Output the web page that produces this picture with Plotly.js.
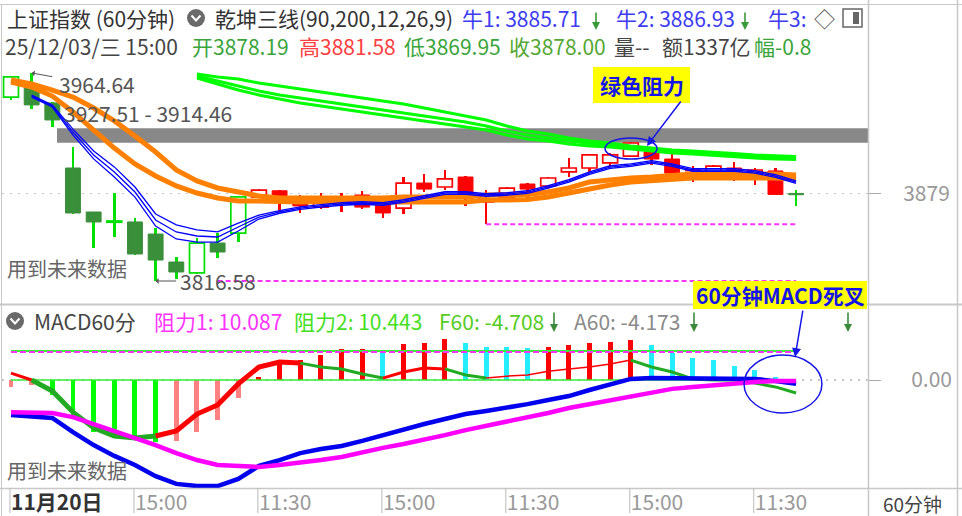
<!DOCTYPE html>
<html><head><meta charset="utf-8">
<script src="https://cdn.plot.ly/plotly-3.0.1.min.js"></script>
<style>html,body{margin:0;padding:0;background:#fff;}#chart{width:962px;height:516px;}</style>
</head><body><div id="chart"></div>
<script>
// ---------- data ----------
const open  = [3947.5,3956.1,3943.3,3897.0,3865.7,3858.4,3858.6,3850.0,3830.1,3822.3,3843.6,3850.7,3876.4,3880.8,3876.4,3869.2,3876.4,3877.8,3870.7,3868.5,3886.3,3883.5,3890.6,3872.8,3875.6,3885.6,3884.2,3894.2,3897.0,3900.6,3905.5,3908.4,3903.4,3895.6,3894.2,3897.0,3892.0,3894.9,3878.19];
const high  = [3962.5,3964.64,3944.0,3911.9,3866.0,3879.2,3861.4,3854.3,3833.7,3847.2,3850.7,3877.0,3882.0,3881.3,3877.8,3879.2,3879.2,3880.6,3872.1,3890.6,3892.7,3895.6,3891.3,3881.3,3883.5,3886.3,3890.6,3903.9,3907.0,3907.7,3915.5,3910.5,3907.7,3898.4,3899.1,3901.3,3897.0,3897.0,3881.58];
const low   = [3945.4,3939.0,3926.2,3864.3,3840.1,3847.9,3835.1,3816.58,3818.0,3821.6,3833.0,3844.3,3876.0,3865.7,3865.0,3867.8,3865.7,3867.8,3861.3,3864.3,3879.9,3881.3,3870.0,3857.0,3872.8,3875.6,3882.0,3890.6,3894.2,3897.7,3904.8,3899.1,3892.0,3887.0,3893.4,3887.7,3884.9,3877.8,3869.95];
const close = [3961.8,3941.9,3931.2,3865.0,3858.6,3858.8,3835.8,3831.5,3823.0,3843.6,3837.2,3876.4,3881.3,3875.6,3870.0,3874.2,3874.2,3869.2,3865.0,3886.3,3882.0,3889.2,3875.6,3875.0,3882.7,3882.0,3889.9,3897.0,3906.3,3906.3,3914.8,3903.4,3893.4,3894.9,3898.4,3892.0,3895.6,3878.2,3878.00];
// candle colour state of the 乾坤三线 indicator: G = green, R = red
const zone = 'GGGGGGGGGGGGRRRRRRRRRRRRRRRRRRRRRRRRRRG';

const N = null;
const green1 = [N,N,N,N,N,N,N,N,N,3963.9,3961.8,3960.3,3957.5,3955.4,3953.2,3951.1,3949.0,3946.8,3944.7,3942.5,3939.7,3936.9,3934.0,3931.2,3926.9,3923.3,3921.2,3918.3,3916.2,3914.8,3912.7,3911.2,3909.8,3909.1,3908.4,3907.3,3906.3,3905.5,3905.2];
const green2 = [N,N,N,N,N,N,N,N,N,3962.5,3958.9,3955.4,3951.8,3949.0,3946.8,3944.7,3942.5,3940.4,3938.3,3936.2,3934.0,3931.9,3929.7,3926.9,3923.3,3920.5,3918.3,3916.2,3914.4,3913.4,3911.9,3910.5,3909.1,3908.0,3907.0,3906.3,3905.5,3904.8,3904.1];
const green3 = [N,N,N,N,N,N,N,N,N,3961.1,3956.8,3952.5,3949.0,3946.1,3943.3,3941.1,3939.0,3936.9,3934.7,3932.6,3930.5,3928.3,3926.2,3924.0,3920.5,3917.6,3916.2,3914.1,3912.7,3911.9,3910.5,3909.1,3907.7,3907.0,3905.9,3904.8,3904.1,3903.4,3903.1];
const orange1 = [3959.6,3956.8,3952.5,3947.5,3939.7,3930.5,3919.8,3908.4,3895.6,3887.8,3882.8,3879.9,3877.1,3875.7,3875.7,3876.0,3875.7,3875.4,3875.7,3876.4,3876.4,3876.8,3876.4,3877.8,3877.8,3878.2,3879.9,3882.8,3887.0,3888.5,3889.9,3890.6,3892.0,3892.7,3892.7,3893.0,3892.7,3892.7,3892.0];
const orange2 = [3958.2,3954.6,3948.2,3936.9,3924.0,3911.2,3899.9,3891.3,3884.2,3879.2,3875.7,3873.5,3873.5,3872.8,3872.8,3873.1,3872.8,3872.5,3872.8,3872.8,3873.1,3872.8,3872.8,3874.2,3874.2,3874.6,3876.4,3879.2,3882.8,3884.9,3887.0,3887.8,3889.2,3889.9,3889.9,3890.2,3889.9,3889.9,3889.2];
const blue1 = [N,3948.9,3941.8,3924.7,3909.1,3897.8,3883.5,3864.3,3856.5,3852.9,3851.5,3857.8,3863.5,3866.6,3869.4,3870.9,3872.3,3873.0,3872.3,3874.4,3877.3,3880.1,3880.1,3878.7,3879.4,3880.8,3884.4,3888.7,3894.3,3898.6,3900.0,3902.2,3900.0,3896.5,3896.5,3896.5,3895.1,3892.2,3887.9];
const blue2 = [N,3948.2,3941.1,3922.6,3906.3,3894.2,3879.9,3860.0,3851.5,3848.6,3847.9,3855.0,3862.1,3865.7,3868.5,3870.0,3871.4,3872.1,3871.4,3873.5,3876.4,3879.2,3879.2,3877.8,3878.5,3879.9,3883.5,3887.8,3893.4,3897.7,3899.1,3901.3,3899.1,3895.6,3895.6,3895.6,3894.2,3891.3,3887.0];
const blue3 = [N,3947.5,3940.4,3920.5,3903.5,3890.6,3876.3,3855.7,3846.5,3844.3,3844.3,3852.2,3860.7,3864.8,3867.6,3869.1,3870.5,3871.2,3870.5,3872.6,3875.5,3878.3,3878.3,3876.9,3877.6,3879.0,3882.6,3886.9,3892.5,3896.8,3898.2,3900.4,3898.2,3894.7,3894.7,3894.7,3893.3,3890.4,3886.1];
const bandTop = 3925.3, bandBottom = 3915.0;       // grey zone 3927.51 - 3914.46
const swingLow = 3816.58, swingLowFrom = 10;       // dashed level
const secondLow = 3857.0, secondLowFrom = 23;      // dashed level
const refPrice = 3879;

// MACD60分 panel
const dif  = [-12.6,-13.0,-13.7,-18.8,-23.5,-27.4,-30.7,-34.7,-37.5,-38.3,-38.3,-35.7,-31.0,-28.9,-26.4,-24.9,-23.8,-22.0,-19.9,-18.1,-15.9,-14.1,-12.3,-11.2,-10.1,-8.7,-7.2,-5.8,-3.6,-1.8,0.4,0.7,0.7,0.7,0.7,0.4,0.4,-0.4,-1.4];
const dea  = [-11.6,-11.6,-11.9,-13.4,-15.9,-18.4,-20.9,-23.5,-26.4,-28.9,-30.7,-31.0,-31.4,-30.7,-30.0,-28.9,-27.8,-26.0,-24.5,-23.1,-21.7,-19.9,-18.1,-16.6,-15.2,-13.7,-11.9,-10.1,-8.7,-7.2,-5.8,-4.3,-3.2,-2.5,-1.8,-1.1,-0.7,-0.4,-0.4];
const f60  = [2.5,0.0,-4.0,-11.6,-17.3,-20.2,-20.9,-20.2,-18.4,-12.3,-9.0,-1.4,4.7,6.5,6.1,4.7,4.0,2.2,0.7,2.9,4.3,4.0,1.8,0.7,1.4,1.8,3.2,4.0,4.7,5.8,7.2,4.7,2.9,0.4,0.0,0.0,-1.1,-2.5,-4.7];
const hist = [-2.5,-1.8,-5.4,-13.4,-18.8,-20.6,-20.9,-22.4,-22.2,-18.8,-14.4,-6.5,1.1,6.5,7.2,9.0,11.2,11.2,10.1,13.0,13.4,14.8,13.4,11.9,11.8,11.5,11.8,12.6,13.4,13.7,14.4,12.6,9.7,7.9,7.2,5.1,3.6,1.1,0];
const resist1 = 10.087, resist2 = 10.443;

const tickIdx  = [0,6,12,18,24,30,36];
const tickText = ['11月20日','15:00','11:30','15:00','11:30','15:00','11:30'];

// ---------- styling / build ----------
const F = '"Noto Sans CJK SC", "Noto Sans", sans-serif';
const idx = close.map((_, i) => i);
const last = idx.length - 1;
const PX = x => (x - 2) / 866;
const PY = y => (488 - y) / 483;

const traces = [];
const T = {xaxis:'x2', yaxis:'y', hoverinfo:'skip', showlegend:false};
function line(y, color, width, extra) {
  traces.push(Object.assign({type:'scatter', mode:'lines', x:idx, y:y, line:{color:color, width:width}}, T, extra||{}));
}
line(green3, '#00ff00', 3); line(green2, '#00ff00', 3); line(green1, '#00ff00', 3);
line(orange2, '#ff8000', 5); line(orange1, '#ff8000', 5);
line(blue3, '#0000ff', 1.3); line(blue2, '#0000ff', 1.3); line(blue1, '#0000ff', 1.3);
// dashed support levels
traces.push(Object.assign({type:'scatter', mode:'lines', x:[swingLowFrom, last], y:[swingLow, swingLow], line:{color:'#ff33ff', width:2, dash:'5px,3px'}}, T));
traces.push(Object.assign({type:'scatter', mode:'lines', x:[secondLowFrom, last], y:[secondLow, secondLow], line:{color:'#ff33ff', width:2, dash:'5px,3px'}}, T));

// wicks
['R','G'].forEach(z => {
  const xs=[], b=[], h=[];
  idx.forEach(i => { if (zone[i]===z) { xs.push(i); b.push(low[i]); h.push(high[i]-low[i]); } });
  traces.push(Object.assign({type:'bar', x:xs, base:b, y:h, width:0.12,
    marker:{color: z==='R' ? '#ff0000' : '#00e000', line:{width:0}}}, T));
});
// bodies
const bodyStyle = {
  Rup:{fill:'#ffffff', line:'#ff0000', lw:1.7},
  Rdn:{fill:'#ff0000', line:'#ff0000', lw:1},
  Gup:{fill:'#ffffff', line:'#00e000', lw:1.7},
  Gdn:{fill:'#3a8f3a', line:'#3a8f3a', lw:1}
};
Object.keys(bodyStyle).forEach(k => {
  const xs=[], b=[], h=[];
  idx.forEach(i => {
    const up = close[i] > open[i];
    if (zone[i] + (up ? 'up' : 'dn') === k) {
      xs.push(i); b.push(Math.min(open[i], close[i])); h.push(Math.max(Math.abs(close[i]-open[i]), 0.9));
    }
  });
  const s = bodyStyle[k];
  traces.push(Object.assign({type:'bar', x:xs, base:b, y:h, width:0.72,
    marker:{color:s.fill, line:{color:s.line, width:s.lw}}}, T));
});

// ---- MACD panel ----
const B = {xaxis:'x', yaxis:'y2', hoverinfo:'skip', showlegend:false};
const histColor = hist.map((v, i) => {
  const p = i ? hist[i-1] : -Infinity;
  if (v > 0) return v >= p ? '#ff0000' : '#22eeff';
  return v <= p ? '#00ff00' : '#ff8080';
});
traces.push(Object.assign({type:'bar', x:idx, y:hist, width:0.24, marker:{color:histColor, line:{width:0}}}, B));
traces.push(Object.assign({type:'scatter', mode:'lines', x:[0, last], y:[0, 0], line:{color:'#33ee33', width:1.5}}, B));
traces.push(Object.assign({type:'scatter', mode:'lines', x:[0, last], y:[resist2, resist2], line:{color:'#33ee33', width:2}}, B));
traces.push(Object.assign({type:'scatter', mode:'lines', x:[0, last], y:[resist1, resist1], line:{color:'#ff33ff', width:2, dash:'6px,3px'}}, B));
const segs = [[0,1,'#ff0000',3],[1,7,'#22aa22',5],[7,14,'#ff0000',5],[14,18,'#22aa22',3],[18,21,'#ff0000',3],[21,23,'#22aa22',3],[23,30,'#ff0000',1.5],[30,38,'#22aa22',3]];
segs.forEach(s => {
  traces.push(Object.assign({type:'scatter', mode:'lines', x:idx.slice(s[0], s[1]+1), y:f60.slice(s[0], s[1]+1), line:{color:s[2], width:s[3]}}, B));
});
traces.push(Object.assign({type:'scatter', mode:'lines', x:idx, y:dif, line:{color:'#0000ee', width:4.5}}, B));
traces.push(Object.assign({type:'scatter', mode:'lines', x:idx, y:dea, line:{color:'#ff00ff', width:4.5}}, B));

// ---------- annotations ----------
const ann = [];
function txt(text, x, y, color, size, bold, anchor) {
  ann.push({text: bold ? '<b>'+text+'</b>' : text, xref:'paper', yref:'paper', x:PX(x), y:PY(y),
    xanchor: anchor || 'left', yanchor:'middle', showarrow:false,
    font:{family:F, size:size||21, color:color}});
}
function downArrow(x, y0, y1, color) {
  ann.push({text:'', xref:'paper', yref:'paper', x:PX(x), y:PY(y1), ax:0, ay:-(y1-y0),
    showarrow:true, arrowhead:2, arrowsize:1, arrowwidth:1.6, arrowcolor:color});
}
const BLUE = '#3c3cf0', UPR = '#ff4040', DNG = '#3aa53a';
txt('上证指数 (60分钟)', 5, 18, '#333');
txt('乾坤三线(90,200,12,26,9)', 213, 18, '#333');
txt('牛1: 3885.71', 460, 18, BLUE); downArrow(596, 11, 30, '#3a9a3a');
txt('牛2: 3886.93', 614, 18, BLUE); downArrow(745, 11, 30, '#3a9a3a');
txt('牛3:', 766, 18, BLUE);
txt('◇', 812, 18, '#555');
txt('25/12/03/三 15:00', 3, 46, '#444');
txt('开3878.19', 190, 46, DNG);
txt('高3881.58', 297, 46, UPR);
txt('低3869.95', 402, 46, DNG);
txt('收3878.00', 507, 46, '#55a833');
txt('量--', 612, 46, '#444');
txt('额1337亿', 660, 46, '#444');
txt('幅-0.8', 752, 46, DNG);

txt(String(high[1]), 57, 84, '#555');
ann.push({text:'', xref:'x2', yref:'y', x:1, y:high[1], ax:22, ay:4, showarrow:true, arrowhead:1, arrowsize:1, arrowwidth:1, arrowcolor:'#555'});
txt('3927.51 - 3914.46', 62, 113, '#555');
txt(String(swingLow), 178, 281, '#555');
ann.push({text:'', xref:'x2', yref:'y', x:7, y:swingLow, ax:22, ay:0, showarrow:true, arrowhead:1, arrowsize:1, arrowwidth:1, arrowcolor:'#555'});
txt('用到未来数据', 5, 268, '#666', 20);

txt('MACD60分', 32, 321, '#444');
txt('阻力1: ' + resist1.toFixed(3), 152, 321, '#ff33ff');
txt('阻力2: ' + resist2.toFixed(3), 292, 321, '#44e022');
txt('F60: -4.708', 437, 321, '#55cc22'); downArrow(554, 311, 332, '#3a8a3a');
txt('A60: -4.173', 572, 321, '#8a8a8a'); downArrow(694, 311, 332, '#3a8a3a');
downArrow(848, 311, 332, '#3a8a3a');
txt('用到未来数据', 5, 470, '#666', 20);

// callouts
txt('绿色阻力', 641.5, 85, '#1515e8', 21, true, 'center');
ann.push({text:'', xref:'x2', yref:'y', x:30.78, y:3912.7, ax:35, ay:-46, showarrow:true, arrowhead:2, arrowsize:1.2, arrowwidth:1.5, arrowcolor:'#1515e8'});
txt('60分钟MACD死叉', 780, 295, '#1515e8', 21, true, 'center');
ann.push({text:'', xref:'x', yref:'y2', x:37.95, y:8.3, ax:8, ay:-48, showarrow:true, arrowhead:2, arrowsize:1.2, arrowwidth:1.5, arrowcolor:'#1515e8'});

txt('60分钟', 912, 503, '#444', 19, false, 'center');

// ---------- shapes ----------
const G = '#c8c8c8';
const shapes = [
  {type:'rect', xref:'paper', yref:'y', x0:PX(57), x1:1, y0:bandBottom, y1:bandTop, fillcolor:'#888888', line:{width:0}, layer:'below'},
  {type:'line', xref:'paper', yref:'paper', x0:PX(0), x1:PX(962), y0:PY(4.5), y1:PY(4.5), line:{color:G, width:1}},
  {type:'line', xref:'paper', yref:'paper', x0:PX(1.5), x1:PX(1.5), y0:PY(4.5), y1:PY(516), line:{color:G, width:1}},
  {type:'line', xref:'paper', yref:'paper', x0:PX(868.5), x1:PX(868.5), y0:PY(0), y1:PY(516), line:{color:G, width:1.5}},
  {type:'line', xref:'paper', yref:'paper', x0:PX(957.5), x1:PX(957.5), y0:PY(0), y1:PY(516), line:{color:G, width:1.5}},
  {type:'line', xref:'paper', yref:'paper', x0:PX(0), x1:PX(962), y0:PY(304.5), y1:PY(304.5), line:{color:G, width:2}},
  {type:'line', xref:'paper', yref:'paper', x0:PX(0), x1:PX(962), y0:PY(488.5), y1:PY(488.5), line:{color:G, width:1.5}},
  // callout boxes
  {type:'rect', xref:'paper', yref:'paper', x0:PX(593), x1:PX(690), y0:PY(103), y1:PY(67), fillcolor:'#ffff00', line:{width:0}},
  {type:'rect', xref:'paper', yref:'paper', x0:PX(693), x1:PX(867), y0:PY(309), y1:PY(281), fillcolor:'#ffff00', line:{width:0}},
  {type:'circle', xref:'x2', yref:'y', x0:28.75, x1:31.27, y0:3903.4, y1:3918.4, line:{color:'#1515e8', width:1.5}},
  {type:'circle', xref:'x', yref:'y2', x0:35.48, x1:39.25, y0:-11.9, y1:9.0, line:{color:'#1515e8', width:1.5}},
  // icons
  {type:'circle', xref:'paper', yref:'paper', x0:PX(187), x1:PX(205), y0:PY(27), y1:PY(9), fillcolor:'#6a6a6a', line:{width:0}},
  {type:'path', xref:'paper', yref:'paper', path:`M ${PX(191.5)} ${PY(15.5)} L ${PX(196)} ${PY(20.5)} L ${PX(200.5)} ${PY(15.5)}`, line:{color:'#fff', width:2}},
  {type:'circle', xref:'paper', yref:'paper', x0:PX(6), x1:PX(24), y0:PY(330), y1:PY(312), fillcolor:'#6a6a6a', line:{width:0}},
  {type:'path', xref:'paper', yref:'paper', path:`M ${PX(10.5)} ${PY(318.5)} L ${PX(15)} ${PY(323.5)} L ${PX(19.5)} ${PY(318.5)}`, line:{color:'#fff', width:2}},
  {type:'rect', xref:'paper', yref:'paper', x0:PX(843), x1:PX(862), y0:PY(27), y1:PY(9), fillcolor:'#fff', line:{color:'#666', width:1.5}},
  {type:'rect', xref:'paper', yref:'paper', x0:PX(853), x1:PX(859), y0:PY(24), y1:PY(12), fillcolor:'#666', line:{width:0}}
];
tickIdx.forEach(t => shapes.push({type:'line', xref:'x', yref:'paper', x0:t-0.05, x1:t-0.05, y0:0, y1:-25/483, line:{color:'#bbb', width:1}}));

const tt = tickText.map((s, i) => i === 0 ? '<span style="color:#333"><b>' + s + '</b></span>' : s);
const xr = [-0.436, 41.48];
const layout = {
  width:962, height:516, margin:{l:2, r:94, t:5, b:28, pad:0},
  paper_bgcolor:'#fff', plot_bgcolor:'#fff', showlegend:false, barmode:'overlay', bargap:0,
  font:{family:F},
  xaxis:{domain:[0,1], anchor:'y2', range:xr, tickmode:'array', tickvals:tickIdx, ticktext:tt, ticks:'',
    ticklabelposition:'outside right', showgrid:false, zeroline:false, showline:false,
    tickfont:{family:F, size:21, color:'#999'}, fixedrange:true},
  xaxis2:{domain:[0,1], anchor:'y', matches:'x', range:xr, showticklabels:false, ticks:'', showgrid:false, zeroline:false, showline:false},
  yaxis:{domain:[0.38302,1], anchor:'x2', side:'right', range:[3800.92, 4013.02], tickmode:'array', tickvals:[refPrice], ticktext:[String(refPrice)],
    ticks:'outside', ticklen:12, tickcolor:'#aaa', showgrid:true, gridcolor:'#c4c4c4', griddash:'2px,6px', gridwidth:1.5,
    zeroline:false, showline:false, tickfont:{family:F, size:21, color:'#999'}, ticklabelstandoff:18},
  yaxis2:{domain:[0,0.37888], anchor:'x', side:'right', range:[-38.99, 27.08], tickmode:'array', tickvals:[0], ticktext:['0.00'],
    ticks:'outside', ticklen:12, tickcolor:'#aaa', showgrid:true, gridcolor:'#c4c4c4', griddash:'2px,6px', gridwidth:1.5,
    zeroline:false, showline:false, tickfont:{family:F, size:21, color:'#999'}, ticklabelstandoff:26},
  shapes:shapes, annotations:ann
};
Plotly.newPlot('chart', traces, layout, {staticPlot:true, displayModeBar:false});
</script></body></html>
